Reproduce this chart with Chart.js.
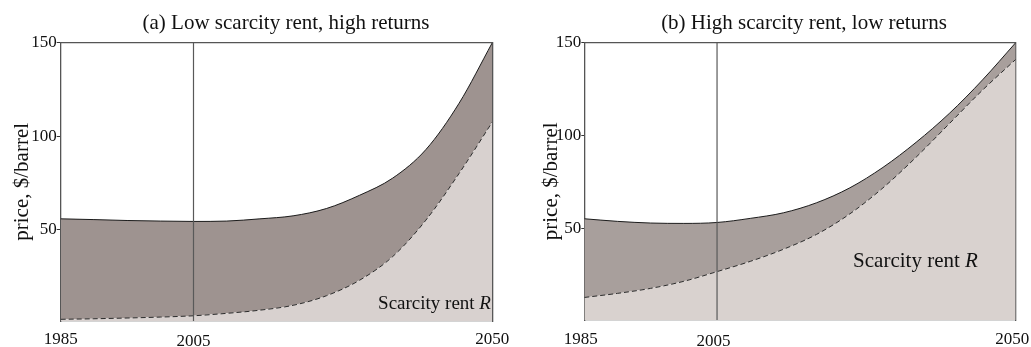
<!DOCTYPE html>
<html>
<head>
<meta charset="utf-8">
<script src="https://cdn.jsdelivr.net/npm/chart.js@4"></script>
<style>
  html, body { margin: 0; padding: 0; background: #fff; overflow: hidden; }
  #wrap { position: relative; width: 1031px; height: 347px; overflow: hidden; }
  canvas { position: absolute; top: 0; }
  #panelA { left: 0; }
  #panelB { left: 530px; }
</style>
</head>
<body>
<div id="wrap">
  <canvas id="panelA" width="572" height="347"></canvas>
  <canvas id="panelB" width="548" height="347"></canvas>
</div>
<script>
// Years sampled along both panels
const years = [1985, 1990, 1995, 2000, 2005, 2010, 2015, 2020, 2025, 2030, 2035, 2040, 2045, 2050];

// (a) low scarcity rent, high returns
const priceA = [55.7, 55.3, 54.8, 54.5, 54.3, 54.5, 55.7, 57.3, 61.2, 68.3, 77.5, 92.8, 117.6, 150];
const rentA  = [1.9, 2.2, 2.6, 3.1, 3.8, 5.1, 6.8, 9.4, 14.5, 22.8, 35.5, 55, 80, 107.5];

// (b) high scarcity rent, low returns
const priceB = [55.4, 54.0, 53.1, 52.9, 53.4, 55.6, 58.6, 64, 72, 83, 96.5, 112, 130, 150];
const rentB  = [13.1, 15.3, 18, 21.8, 27, 32.5, 39, 47, 58, 72, 88.5, 106.5, 124.5, 141];

const xTicks = [1985, 2005, 2050];
const yTicks = [50, 100, 150];
const markYear = 2005;
const yRange = [1, 150];

const titleA = '(a) Low scarcity rent, high returns';
const titleB = '(b) High scarcity rent, low returns';
const yTitle = 'price, $/barrel';
const rentText = 'Scarcity rent ';
const rentSymbol = 'R';

const SERIF = '"Liberation Serif", "Times New Roman", serif';
const INK = '#111';
const FRAME = '#555';

// Writes "Scarcity rent R" (italic R) right-aligned at a point on the plot's scales
const rentLabel = {
  id: 'rentLabel',
  afterDatasetsDraw(chart, args, opts) {
    const { ctx, scales: { x, y } } = chart;
    ctx.save();
    ctx.font = `italic ${opts.size}px ${SERIF}`;
    const wSym = ctx.measureText(rentSymbol).width;
    ctx.font = `${opts.size}px ${SERIF}`;
    const wTxt = ctx.measureText(rentText).width;
    const right = x.getPixelForValue(opts.x);
    const base = y.getPixelForValue(opts.y);
    ctx.fillStyle = INK;
    ctx.textAlign = 'left';
    ctx.textBaseline = 'alphabetic';
    ctx.fillText(rentText, right - wSym - wTxt, base);
    ctx.font = `italic ${opts.size}px ${SERIF}`;
    ctx.fillText(rentSymbol, right - wSym, base);
    ctx.restore();
  }
};

function points(vals) {
  return years.map((yr, i) => ({ x: yr, y: vals[i] }));
}

function makePanel(id, title, price, rent, g) {
  const edge = { display: true, color: FRAME, width: 1.3 };
  return new Chart(document.getElementById(id), {
    type: 'line',
    data: {
      datasets: [
        {
          label: 'Scarcity rent', data: points(rent),
          borderColor: '#2a2a2a', borderWidth: 1, borderDash: [5, 3],
          backgroundColor: g.light, fill: 'origin',
          pointRadius: 0, cubicInterpolationMode: 'monotone', order: 1
        },
        {
          label: 'Price', data: points(price),
          borderColor: '#1c1c1c', borderWidth: 1,
          backgroundColor: g.dark, fill: '-1',
          pointRadius: 0, cubicInterpolationMode: 'monotone', order: 2
        },
        {
          label: String(markYear),
          data: [{ x: markYear, y: yRange[0] }, { x: markYear, y: yRange[1] }],
          borderColor: '#595959', borderWidth: 1.2, pointRadius: 0, fill: false, order: 0
        }
      ]
    },
    options: {
      responsive: false,
      animation: false,
      events: [],
      layout: { padding: 0 },
      plugins: {
        legend: { display: false },
        tooltip: { enabled: false },
        title: {
          display: true, text: title, color: INK,
          font: { family: SERIF, size: 21, weight: 'normal', lineHeight: 1.2 },
          padding: { top: 11, bottom: 6.5 }
        },
        rentLabel: g.label
      },
      scales: {
        x: {
          type: 'linear', position: 'bottom', min: years[0], max: years[years.length - 1],
          afterBuildTicks: s => { s.ticks = xTicks.map(v => ({ value: v })); },
          afterFit: s => { s.height = g.xAxisH; },
          grid: { display: false, drawTicks: false },
          border: edge,
          ticks: {
            color: INK, padding: g.xPad, labelOffset: g.xShift, maxRotation: 0, autoSkip: false,
            callback: v => String(v),
            font: c => ({ family: SERIF, size: 17, lineHeight: (c.tick && c.tick.value === markYear) ? 1.5 : 1.2 })
          }
        },
        xTop: {
          axis: 'x', type: 'linear', position: 'top', min: years[0], max: years[years.length - 1],
          grid: { display: false, drawTicks: false },
          ticks: { display: false },
          border: edge,
          afterFit: s => { s.height = 0; }
        },
        y: {
          type: 'linear', position: 'left', min: yRange[0], max: yRange[1],
          afterBuildTicks: s => { s.ticks = yTicks.map(v => ({ value: v })); },
          afterFit: s => { s.width = g.yAxisW; },
          grid: { display: true, drawOnChartArea: false, drawTicks: true, tickLength: g.tickLen, color: '#333', lineWidth: 1 },
          border: edge,
          ticks: { color: INK, padding: 0, font: { family: SERIF, size: 17 } },
          title: {
            display: true, text: yTitle, color: INK,
            font: { family: SERIF, size: 21, lineHeight: 1.2 },
            padding: { top: g.yTitlePad, bottom: 0 }
          }
        },
        yRight: {
          axis: 'y', type: 'linear', position: 'right', min: yRange[0], max: yRange[1],
          grid: { display: false, drawTicks: false },
          ticks: { display: false },
          border: edge,
          afterFit: s => { s.width = g.rightW; }
        }
      }
    },
    plugins: [rentLabel]
  });
}

makePanel('panelA', titleA, priceA, rentA, {
  dark: '#9e9390', light: '#d8d1cf',
  yAxisW: 60.7, rightW: 79.7, xAxisH: 26, xPad: 8, xShift: 0, tickLen: 4, yTitlePad: 10,
  label: { x: 2049.8, y: 7.3, size: 19 }
});

makePanel('panelB', titleB, priceB, rentB, {
  dark: '#a89f9c', light: '#d9d2cf',
  yAxisW: 54.3, rightW: 62.3, xAxisH: 27, xPad: 9, xShift: -3.5, tickLen: 3, yTitlePad: 8.4,
  label: { x: 2044.3, y: 29.6, size: 21 }
});
</script>
</body>
</html>
